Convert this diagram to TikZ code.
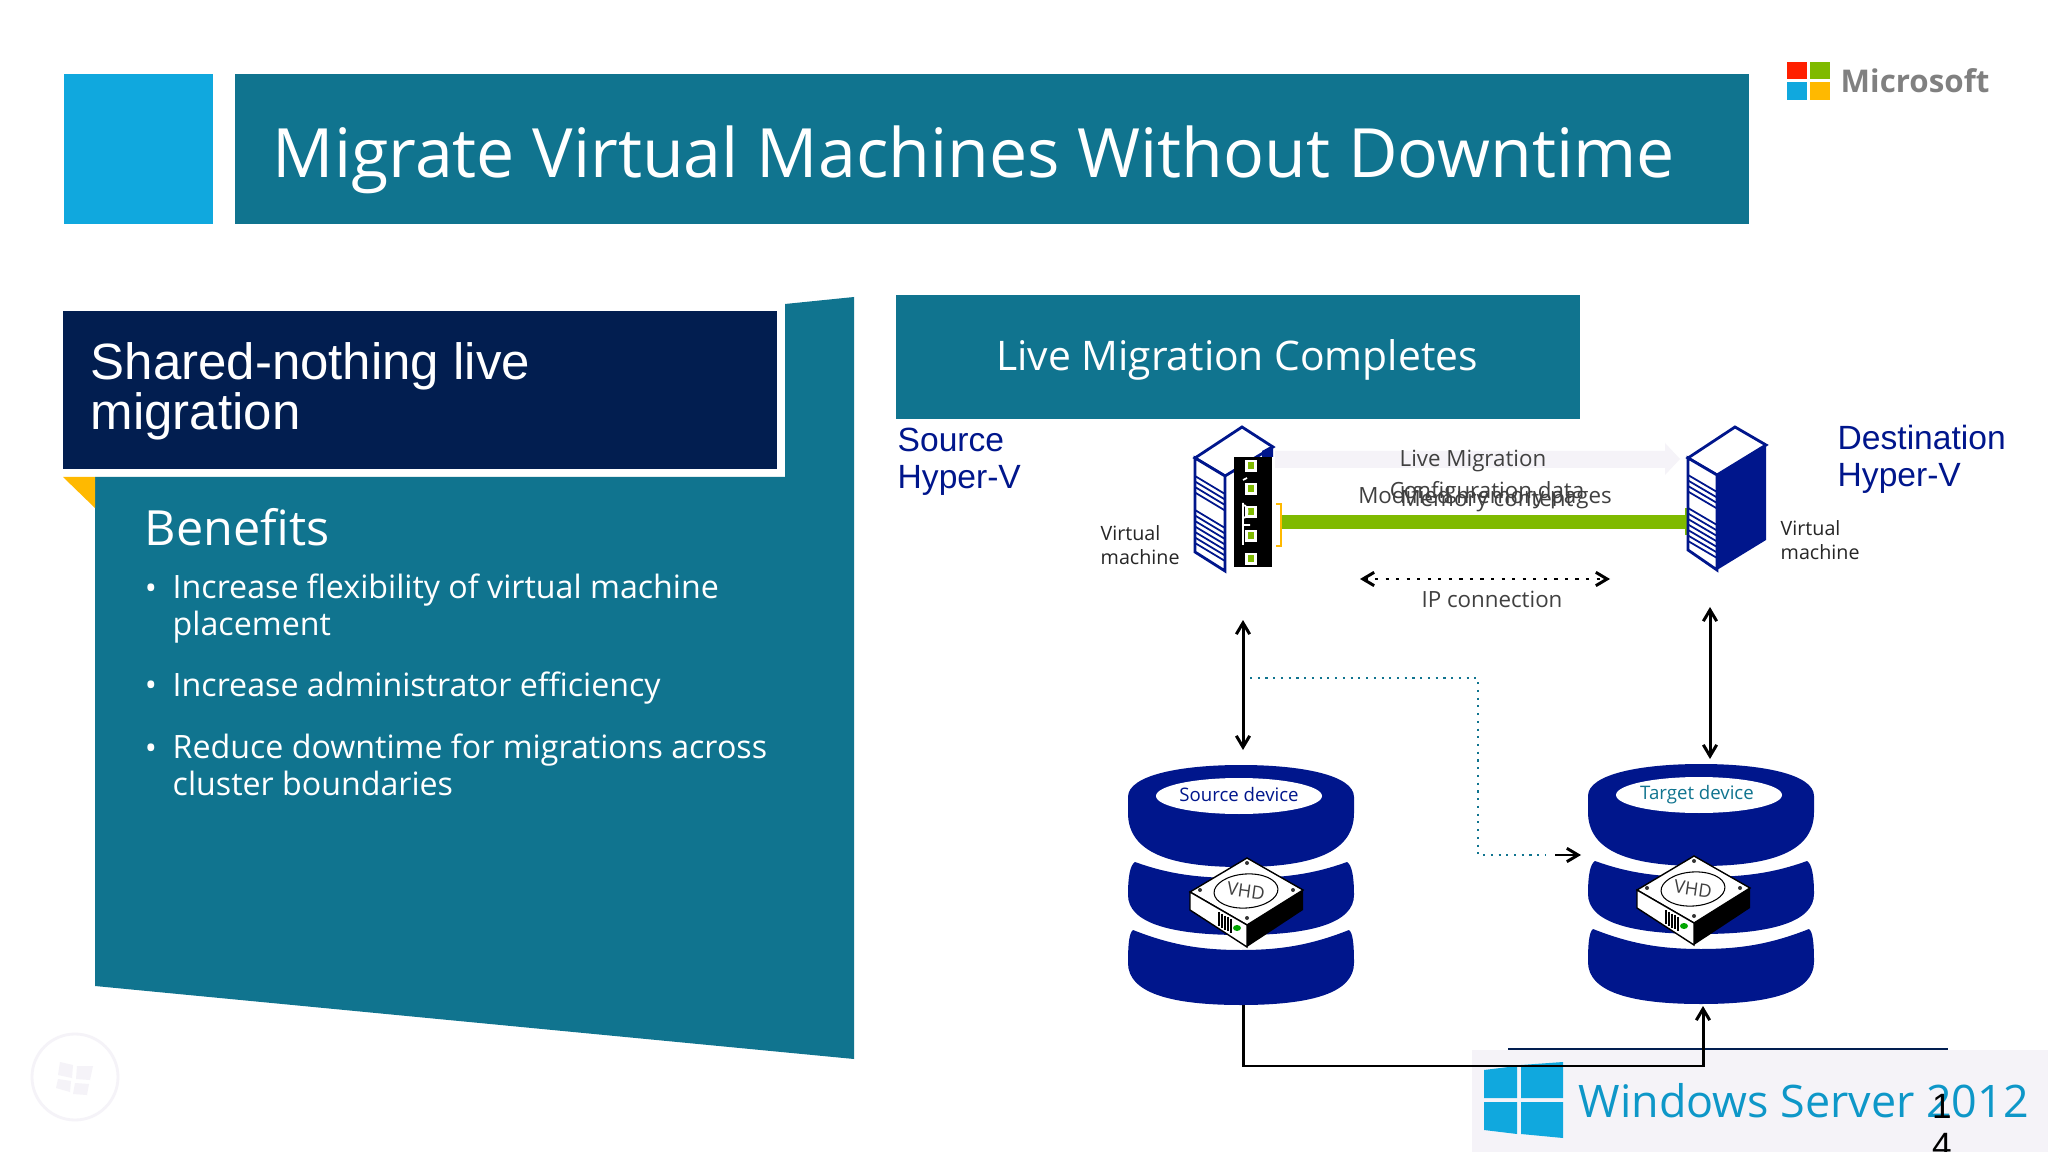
\documentclass[tikz,border=0pt]{standalone}
\usepackage{fontspec}
\setmainfont{Open Sans}
\newfontfamily\arialfont{Liberation Sans}
\usetikzlibrary{arrows.meta}
\definecolor{bluesq}{HTML}{10A8DE}
\definecolor{tealbar}{HTML}{10748F}
\definecolor{darkbox}{HTML}{021E50}
\definecolor{navydisk}{HTML}{00168C}
\definecolor{goldtip}{HTML}{FFB900}
\definecolor{limebar}{HTML}{7FBA00}
\definecolor{paleband}{HTML}{F5F3F8}
\definecolor{greytext}{HTML}{404040}
\tikzset{
  lbl/.style={inner sep=0pt,text=greytext,font=\fontsize{6.35}{7.5}\selectfont,align=center},
  vmlbl/.style={inner sep=0pt,text=black!85,font=\fontsize{5.6}{6.7}\selectfont,align=left,anchor=west},
  bullettxt/.style={inner sep=0pt,text=white,font=\fontsize{9.15}{10.5}\selectfont,align=left,anchor=west},
  dotmark/.style={inner sep=0pt,text=white,font=\fontsize{9.15}{10.5}\selectfont},
  hostlbl/.style={inner sep=0pt,text=navydisk,font=\arialfont\fontsize{9.55}{10.5}\selectfont,align=left,anchor=west},
  link/.style={line width=0.85pt,black,>={Straight Barb[length=3.2pt,width=3.8pt]}},
}
% one stacked disk, origin at the top middle
\newcommand{\diskstack}[2]{
  \begin{scope}[shift={(#1,#2)}]
    \fill[navydisk] (-113,32) .. controls (-113,10) and (-60,0) .. (0,0) .. controls (60,0) and (113,10) .. (113,32) -- (113,48) .. controls (113,88) and (70,102) .. (0,102) .. controls (-70,102) and (-113,88) .. (-113,48) -- cycle;
    \fill[navydisk] (-106,97) .. controls (-70,110) and (-40,113) .. (0,113) .. controls (40,113) and (70,110) .. (106,97) .. controls (111,100) and (113,112) .. (113,130) .. controls (113,158) and (70,170) .. (0,170) .. controls (-70,170) and (-113,158) .. (-113,130) .. controls (-113,112) and (-111,100) .. (-106,97) -- cycle;
    \fill[navydisk] (-108,165) .. controls (-70,180) and (-40,185) .. (0,185) .. controls (40,185) and (70,180) .. (108,165) .. controls (112,168) and (113,180) .. (113,198) .. controls (113,228) and (70,240) .. (0,240) .. controls (-70,240) and (-113,228) .. (-113,198) .. controls (-113,180) and (-112,168) .. (-108,165) -- cycle;
    \fill[white] (-2,31) ellipse (83 and 18);
  \end{scope}
}
% small VHD box, origin at its top corner
\newcommand{\vhdbox}[2]{
  \begin{scope}[shift={(#1,#2)}]
    \filldraw[fill=white,draw=black,line width=0.4pt] (0,0) -- (56,32) -- (0,67) -- (-57,34) -- cycle;
    \filldraw[fill=white,draw=black,line width=0.4pt] (-57,34) -- (0,67) -- (0,89) -- (-57,52) -- cycle;
    \fill[black] (0,67) -- (56,32) -- (56,52) -- (0,89) -- cycle;
    \draw[black,line width=0.3pt,rotate around={4:(-1,33)}] (-1,33) ellipse (32 and 17);
    \foreach \p in {(0,5),(-47,32),(46,32),(0,60)} \fill[black!80] \p circle (2);
    \foreach \d in {0,3,6,9,12} \draw[black,line width=0.3pt] (-28+\d,54+0.6*\d) -- (-28+\d,68+0.6*\d);
    \fill[green!65!black] (-10,70) ellipse (4 and 3);
  \end{scope}
}
\begin{document}
\begin{tikzpicture}[x=0.01cm,y=-0.01cm]
  \useasboundingbox (0,0) rectangle (2048,1152);
  \fill[white] (0,0) rectangle (2048,1152);

  % Title bar
  \fill[bluesq] (64,74) rectangle (213,224);
  \fill[tealbar] (235,74) rectangle (1749,224);
  \node[inner sep=0pt,anchor=west,text=white,font=\fontsize{19.35}{24}\selectfont] (title) at (272,160) {Migrate Virtual Machines Without Downtime};

  % Microsoft logo
  \fill[red!75!orange] (1787,62) rectangle (1807,79);
  \fill[limebar] (1810,62) rectangle (1830,79);
  \fill[bluesq] (1787,82) rectangle (1807,100);
  \fill[goldtip] (1810,82) rectangle (1830,100);
  \node[inner sep=0pt,anchor=west,text=black!50,font=\fontsize{8.9}{10}\selectfont\bfseries] (mslogo) at (1840,81) {Microsoft};

  % Left panel
  \fill[tealbar] (854,297) -- (785,304) -- (785,477) -- (95,477) -- (95,986) -- (854,1059) -- cycle;
  \fill[goldtip] (63,477) -- (95,477) -- (95,508) -- cycle;
  \fill[darkbox] (63,311) rectangle (777,469);
  \node[inner sep=0pt,anchor=west,text=white,align=left,font=\arialfont\fontsize{14.5}{14.2}\selectfont] (headline) at (90,391) {Shared-nothing live\\migration};
  \node[inner sep=0pt,anchor=west,text=white,font=\fontsize{13.8}{16}\selectfont] (benefits) at (144,527) {Benefits};
  \node[dotmark] (dota) at (151,592) {•};
  \node[dotmark] (dotb) at (151,689) {•};
  \node[dotmark] (dotc) at (151,752) {•};
  \node[bullettxt] (itema) at (172,609) {Increase flexibility of virtual machine\\placement};
  \node[bullettxt] (itemb) at (172,688) {Increase administrator efficiency};
  \node[bullettxt] (itemc) at (172,765) {Reduce downtime for migrations across\\cluster boundaries};

  % Faint round logo
  \draw[paleband,line width=0.8pt] (75,1077) circle (43);
  \fill[paleband] (60,1062) -- (73,1065) -- (72,1078) -- (58,1075) -- cycle;
  \fill[paleband] (77,1066) -- (93,1066) -- (90,1080) -- (76,1079) -- cycle;
  \fill[paleband] (58,1079) -- (71,1081) -- (70,1092) -- (56,1088) -- cycle;
  \fill[paleband] (75,1083) -- (89,1084) -- (87,1095) -- (73,1094) -- cycle;

  % Right heading
  \fill[tealbar] (896,295) rectangle (1580,419);
  \node[inner sep=0pt,text=white,font=\fontsize{11.6}{13}\selectfont] (stage) at (1237,360) {Live Migration Completes};
  \node[hostlbl] (srchost) at (897,462) {Source\\Hyper-V};
  \node[hostlbl] (dsthost) at (1837,459) {Destination\\Hyper-V};

  % Transfer band and bar
  \fill[paleband] (1275,451) -- (1665,451) -- (1665,443) -- (1680,459) -- (1665,475) -- (1665,468) -- (1275,468) -- cycle;
  \fill[limebar] (1282,515) rectangle (1685,529);
  \fill[limebar] (1685,508) rectangle (1689,535);
  \draw[goldtip,line width=0.7pt] (1276,504) -- (1281,504) -- (1281,546) -- (1276,546);

  % Source server
  \filldraw[fill=white,draw=navydisk,line width=0.8pt] (1195,458) -- (1242,427) -- (1273,447) -- (1225,476) -- cycle;
  \filldraw[fill=white,draw=navydisk,line width=0.8pt] (1195,458) -- (1225,476) -- (1225,571) -- (1195,552) -- cycle;
  \foreach \y in {476,481.5,...,493} \draw[navydisk,line width=0.5pt] (1195,\y) -- (1225,\y+18);
  \foreach \y in {510,515.5,...,548} \draw[navydisk,line width=0.5pt] (1195,\y) -- (1225,\y+18);
  \fill[navydisk] (1262,451) -- (1273,445) -- (1273,457) -- (1262,457) -- cycle;
  \fill[black] (1234,457) rectangle (1272,567);
  \foreach \y in {466,489,512,536,559} {
    \fill[white] (1245,\y-6) rectangle (1257,\y+6);
    \fill[limebar] (1248,\y-3.5) rectangle (1254,\y+3.5);
  }
  \draw[white,line width=0.5pt] (1243,480) -- (1247,478) (1243,503) -- (1243,545) (1243,525) -- (1250,525) (1243,505) .. controls (1249,505) and (1249,518) .. (1243,518);

  % Destination server
  \filldraw[fill=white,draw=navydisk,line width=0.8pt] (1688,458) -- (1735,427) -- (1766,445) -- (1717,475) -- cycle;
  \filldraw[fill=white,draw=navydisk,line width=0.8pt] (1688,458) -- (1717,475) -- (1717,570) -- (1688,550) -- cycle;
  \fill[navydisk] (1717,475) -- (1766,445) -- (1766,540) -- (1717,570) -- cycle;
  \foreach \y in {475,480.5,...,492} \draw[navydisk,line width=0.5pt] (1688,\y) -- (1717,\y+17);
  \foreach \y in {508,513.5,...,546} \draw[navydisk,line width=0.5pt] (1688,\y) -- (1717,\y+17);

  % Server labels
  \node[lbl] (livemig) at (1473,461) {Live Migration};
  \node[lbl] (modpages) at (1485,498) {Modified memory pages};
  \node[lbl] (config) at (1487,493) {Configuration data};
  \node[lbl] (memcont) at (1487,501) {Memory content};
  \node[vmlbl] (srcvm) at (1100,545) {Virtual\\machine};
  \node[vmlbl] (dstvm) at (1780,540) {Virtual\\machine};
  \node[lbl] (ipconn) at (1492,599) {IP connection};

  % Disks
  \diskstack{1241}{765}
  \diskstack{1701}{764}
  \node[inner sep=0pt,text=navydisk,font=\fontsize{5.3}{6}\selectfont] (srcdev) at (1239,795) {Source device};
  \node[inner sep=0pt,text=tealbar,font=\fontsize{5.3}{6}\selectfont] (dstdev) at (1697,795) {Target device};
  \vhdbox{1247}{858}
  \vhdbox{1694}{856}
  \node[inner sep=0pt,text=greytext,font=\fontsize{5.2}{6}\selectfont,rotate=-8] (srcvhd) at (1246,891) {VHD};
  \node[inner sep=0pt,text=greytext,font=\fontsize{5.2}{6}\selectfont,rotate=-8] (dstvhd) at (1693,889) {VHD};

  % Footer band
  \fill[paleband] (1472,1050) rectangle (2048,1152);
  \draw[darkbox,line width=0.4pt] (1508,1049) -- (1948,1049);
  \fill[bluesq] (1484,1070) -- (1517,1066) -- (1517,1098) -- (1484,1098) -- cycle;
  \fill[bluesq] (1521,1065) -- (1563,1062) -- (1563,1098) -- (1521,1098) -- cycle;
  \fill[bluesq] (1484,1102) -- (1517,1102) -- (1517,1134) -- (1484,1130) -- cycle;
  \fill[bluesq] (1521,1102) -- (1563,1102) -- (1563,1138) -- (1521,1134) -- cycle;
  \node[inner sep=0pt,anchor=west,text=bluesq!90!black,font=\fontsize{12.75}{15}\selectfont] (winserver) at (1578,1101) {Windows Server 2012};
  \node[inner sep=0pt,anchor=north,text=black,align=center,font=\arialfont\fontsize{10}{10.9}\selectfont] (pageno) at (1942,1094) {1\\4};

  % Connector ends
  \coordinate (ipleft) at (1360,579);
  \coordinate (ipright) at (1610,579);
  \coordinate (srctop) at (1243,620);
  \coordinate (srcbot) at (1243,750);
  \coordinate (dsttop) at (1710,607);
  \coordinate (dstbot) at (1710,759);
  \coordinate (dotstart) at (1250,678);
  \coordinate (dotbend) at (1478,678);
  \coordinate (dotend) at (1478,855);
  \coordinate (dotstop) at (1546,855);
  \coordinate (stubstart) at (1555,855);
  \coordinate (stubend) at (1581,855);
  \coordinate (diskout) at (1243,1005);
  \coordinate (diskin) at (1703,1006);

  % Connectors
  \draw[link,<->,dash pattern=on 0.9pt off 2.1pt] (ipleft) -- (ipright);
  \draw[link,<->] (srctop) -- (srcbot);
  \draw[link,<->] (dsttop) -- (dstbot);
  \draw[tealbar,line width=0.45pt,dash pattern=on 0.6pt off 1.6pt] (dotstart) -- (dotbend) -- (dotend) -- (dotstop);
  \draw[link,->] (stubstart) -- (stubend);
  \draw[link,->] (diskout) -- (1243,1066) -- (1703,1066) -- (diskin);
\end{tikzpicture}
\end{document}
